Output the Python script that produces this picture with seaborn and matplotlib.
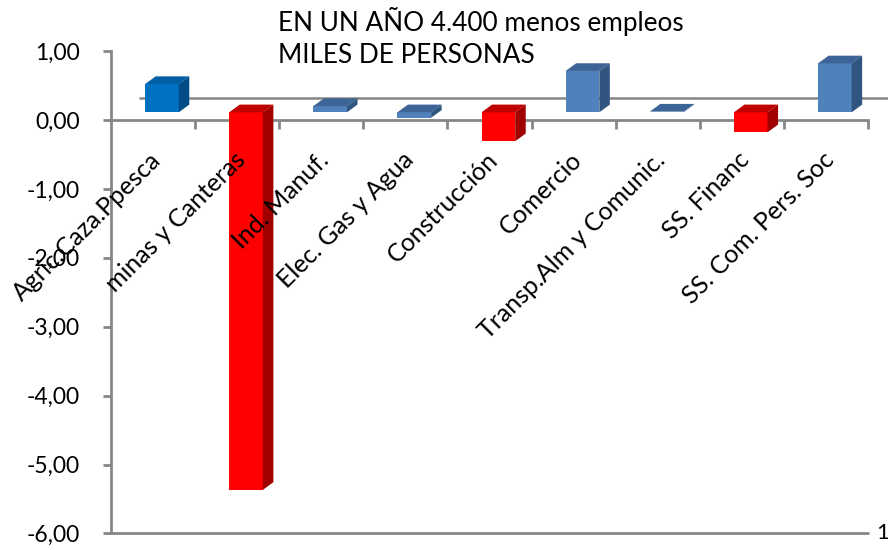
import matplotlib
matplotlib.use("Agg")
import matplotlib.pyplot as plt
import matplotlib.transforms as mtransforms
from matplotlib.patches import Polygon
from matplotlib.ticker import FuncFormatter, FixedLocator
import seaborn as sns
import pandas as pd

# ---- data ----
categories = ["Agric.Caza.Ppesca", "minas y Canteras", "Ind. Manuf.", "Elec. Gas y Agua",
              "Construcción", "Comercio", "Transp.Alm y Comunic.", "SS. Financ",
              "SS. Com. Pers. Soc"]
values = [0.41, -5.48, 0.09, -0.08, -0.42, 0.60, 0.01, -0.29, 0.71]
title_lines = ["EN UN AÑO 4.400 menos empleos", "MILES DE PERSONAS"]
y_ticks = [-6, -5, -4, -3, -2, -1, 0, 1]
depth_label = "1"

# ---- styles ----
front_colors = ["#0070C0", "#FF0000", "#4F81BD", "#4F81BD", "#FF0000",
                "#4F81BD", "#4F81BD", "#FF0000", "#4F81BD"]
top_colors = ["#005FA5", "#C00000", "#3C6496", "#3C6496", "#C00000",
              "#3C6496", "#3C6496", "#C00000", "#3C6496"]
side_colors = ["#004C86", "#A00000", "#30557F", "#30557F", "#A00000",
               "#30557F", "#30557F", "#A00000", "#30557F"]
axis_color = "#878787"

sns.set_theme(style="white")
plt.rcParams['font.family'] = ['Lato', 'DejaVu Sans']

W, H = 888, 550
fig = plt.figure(figsize=(W / 100, H / 100), dpi=100)
x_left, x_right = 111, 868
y_top, y_bot = 51.1, 533.4
ax = fig.add_axes([x_left / W, 1 - y_bot / H, (x_right - x_left) / W, (y_bot - y_top) / H])

df = pd.DataFrame({"cat": categories, "val": values})
sns.barplot(data=df, x="cat", y="val", hue="cat", palette=dict(zip(categories, front_colors)),
            width=0.40, saturation=1, legend=False, ax=ax)
ax.set_xlim(-0.5, 8.5)
ax.set_ylim(-6, 1)

# 3D offsets (in data units)
px_x = (x_right - x_left) / 9.0       # pixels per category
px_y = (y_bot - y_top) / 7.0          # pixels per unit
OFFX, OFFY = 8.9 / px_x, 7.7 / px_y   # front face offset from axis plane
DX, DY = 10.5 / px_x, 7.7 / px_y      # bar depth

for p in ax.patches:
    cx = p.get_x() + p.get_width() / 2
    i = int(round(cx))
    p.set_x(p.get_x() + OFFX)
    p.set_y(p.get_y() + OFFY)
    p.set_zorder(3)
    p.set_edgecolor("none")
    x0 = p.get_x()
    x1 = x0 + p.get_width()
    y0 = p.get_y()
    y1 = y0 + p.get_height()
    top, bot = max(y0, y1), min(y0, y1)
    ax.add_patch(Polygon([(x0, top), (x0 + DX, top + DY), (x1 + DX, top + DY), (x1, top)],
                         closed=True, facecolor=top_colors[i], edgecolor="none", zorder=3))
    ax.add_patch(Polygon([(x1, bot), (x1, top), (x1 + DX, top + DY), (x1 + DX, bot + DY)],
                         closed=True, facecolor=side_colors[i], edgecolor="none", zorder=3))

# back wall zero line
back = mtransforms.ScaledTranslation(28.3 / 100, 22.3 / 100, fig.dpi_scale_trans)
ax.plot([-0.5, 9.5], [0, 0], color=axis_color, lw=1.8, transform=ax.transData + back,
        clip_on=False, zorder=1.5, solid_capstyle="butt")

# floor line at bottom
ax.axhline(-6, color=axis_color, lw=2.0, zorder=2.5, clip_on=False)

# spines
for s in ["top", "right"]:
    ax.spines[s].set_visible(False)
ax.spines["left"].set_color(axis_color)
ax.spines["left"].set_linewidth(2.0)
ax.spines["bottom"].set_position(("data", 0))
ax.spines["bottom"].set_color(axis_color)
ax.spines["bottom"].set_linewidth(2.0)
ax.spines["bottom"].set_zorder(2.5)

ax.yaxis.set_major_locator(FixedLocator(y_ticks))
ax.yaxis.set_major_formatter(FuncFormatter(lambda v, _: f"{v:.2f}".replace(".", ",")))
ax.tick_params(axis="y", left=True, length=5.8, width=2.0, color=axis_color, pad=16.5,
               labelsize=16.5, labelcolor="black")
ax.set_xticks([])
ax.set_xticks([i + 0.5 for i in range(len(categories))], minor=True)
ax.tick_params(axis="x", which="minor", bottom=True, direction="out", length=6.5, width=2.0,
               color=axis_color)
ax.set_xlabel("")
ax.set_ylabel("")
ax.grid(False)

# category labels near the zero line
for i, c in enumerate(categories):
    ax.annotate(c, xy=(i, 0), xytext=(3.0, -26.0), textcoords="offset points",
                rotation=45, rotation_mode="anchor", ha="right", va="center",
                fontsize=18, color="black", annotation_clip=False)

# title
fig.text(278 / W, 1 - 31 / H, title_lines[0], ha="left", va="baseline", fontsize=18.8, color="black")
fig.text(278 / W, 1 - 63 / H, title_lines[1], ha="left", va="baseline", fontsize=18.8, color="black")

# depth axis label (at right edge)
fig.text(876 / W, 1 - 533 / H, depth_label, ha="left", va="center", fontsize=16, color="black")

fig.savefig("out.png", dpi=100)
